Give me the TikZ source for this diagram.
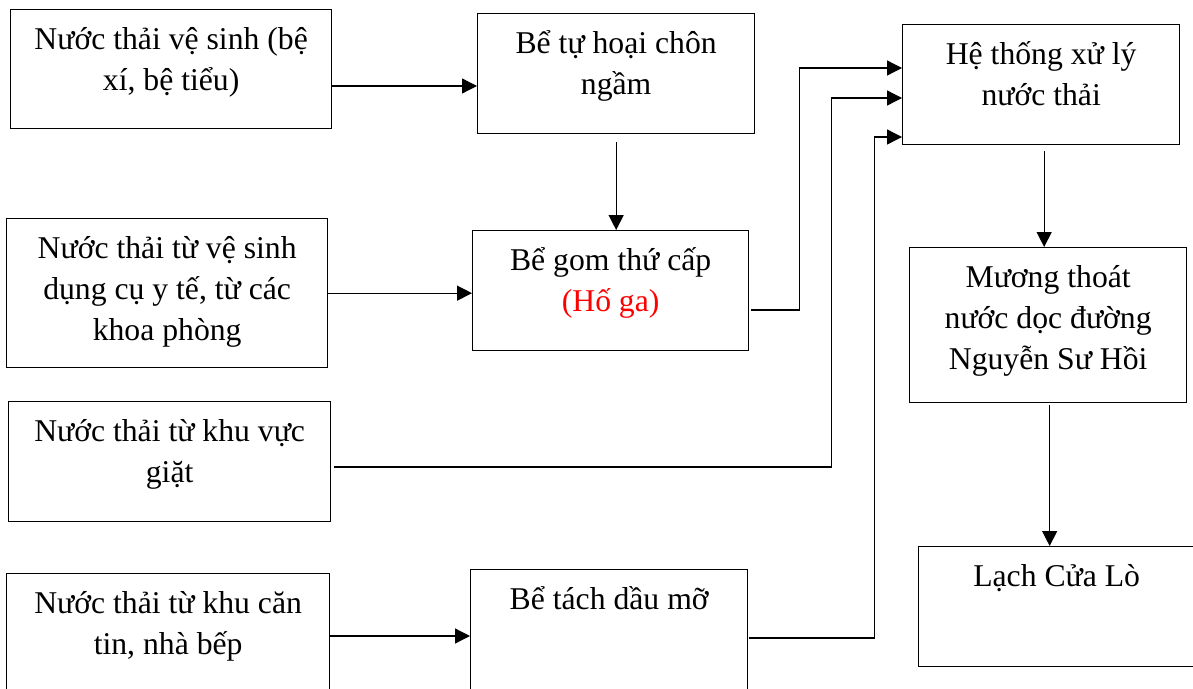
\documentclass[tikz,border=0pt]{standalone}
\usepackage{fontspec}
\setmainfont{Liberation Serif}
\usetikzlibrary{arrows.meta,calc}
\begin{document}
\begin{tikzpicture}[x=1pt,y=-1pt,
  box/.style={draw, line width=1.3pt, inner sep=0pt, anchor=north west},
  txt/.style={inner sep=0pt, anchor=base, font=\fontsize{31.7}{41}\selectfont},
  arr/.style={line width=1.3pt, -{Triangle[length=15pt,width=15pt]}},
]
\clip (0,0) rectangle (1193,688);
% boxes
\node[box, minimum width=321pt, minimum height=119pt] (b1) at (10,9) {};
\node[box, minimum width=277pt, minimum height=120pt] (b2) at (477,13) {};
\node[box, minimum width=276pt, minimum height=120pt] (b3) at (472,230) {};
\node[box, minimum width=277pt, minimum height=120pt] (ht) at (902,24) {};
\node[box, minimum width=277pt, minimum height=155pt] (mu) at (909,247) {};
\node[box, minimum width=276pt, minimum height=120pt] (la) at (918,546) {};
\node[box, minimum width=321pt, minimum height=149pt] (b7) at (6,218) {};
\node[box, minimum width=322pt, minimum height=120pt] (b8) at (8,401) {};
\node[box, minimum width=323pt, minimum height=130pt] (b9) at (6,573) {};
\node[box, minimum width=277pt, minimum height=135pt] (bt) at (470,569) {};
% texts
\node[txt] (t1) at ($(b1.north)+(0,40)$) {\parbox[t]{315pt}{\centering Nước thải vệ sinh (bệ\\xí, bệ tiểu)}};
\node[txt] (t2) at ($(b2.north)+(0,40)$) {\parbox[t]{270pt}{\centering Bể tự hoại chôn\\ngầm}};
\node[txt] (t3) at ($(b3.north)+(0,40)$) {\parbox[t]{270pt}{\centering Bể gom thứ cấp\\\textcolor{red}{(Hố ga)}}};
\node[txt] (tht) at ($(ht.north)+(0,40)$) {\parbox[t]{270pt}{\centering Hệ thống xử lý\\nước thải}};
\node[txt] (tmu) at ($(mu.north)+(0,40)$) {\parbox[t]{270pt}{\centering Mương thoát\\nước dọc đường\\Nguyễn Sư Hồi}};
\node[txt] (tla) at ($(la.north)+(0,40)$) {\parbox[t]{270pt}{\centering Lạch Cửa Lò}};
\node[txt] (t7) at ($(b7.north)+(0,40)$) {\parbox[t]{315pt}{\centering Nước thải từ vệ sinh\\dụng cụ y tế, từ các\\khoa phòng}};
\node[txt] (t8) at ($(b8.north)+(0,40)$) {\parbox[t]{315pt}{\centering Nước thải từ khu vực\\giặt}};
\node[txt] (t9) at ($(b9.north)+(0,40)$) {\parbox[t]{315pt}{\centering Nước thải từ khu căn\\tin, nhà bếp}};
\node[txt] (tbt) at ($(bt.north)+(0,40)$) {\parbox[t]{270pt}{\centering Bể tách dầu mỡ}};
% connector points
\coordinate (c1) at ($(b1.north east)+(0,77)$);
\coordinate (c2) at ([yshift=-8pt]b2.south);
\coordinate (c3) at ($(b3.north east)+(2,80)$);
\coordinate (c4) at ($(b8.north east)+(3,66)$);
\coordinate (c5) at ($(bt.north east)+(1,69)$);
\coordinate (c6) at ($(b9.north east)+(0,63)$);
\coordinate (c7) at ($(ht.south)+(3,6)$);
\coordinate (c8) at ($(mu.south)+(1.5,2)$);
\coordinate (h1) at ($(ht.north west)+(0,44)$);
\coordinate (h2) at ($(ht.north west)+(0,74)$);
\coordinate (h3) at ($(ht.north west)+(0,113)$);
% connectors
\draw[arr] (c1) -- (c1 -| b2.west);
\draw[arr] (c2) -- (c2 |- b3.north);
\draw[arr] (b7.east) -- (b7.east -| b3.west);
\draw[arr] (c3) -- ++(48,0) |- (h1);
\draw[arr] (c4) -- ++(497,0) |- (h2);
\draw[arr] (c5) -- ++(125,0) |- (h3);
\draw[arr] (c6) -- (c6 -| bt.west);
\draw[arr] (c7) -- (c7 |- mu.north);
\draw[arr] (c8) -- (c8 |- la.north);
\end{tikzpicture}
\end{document}
